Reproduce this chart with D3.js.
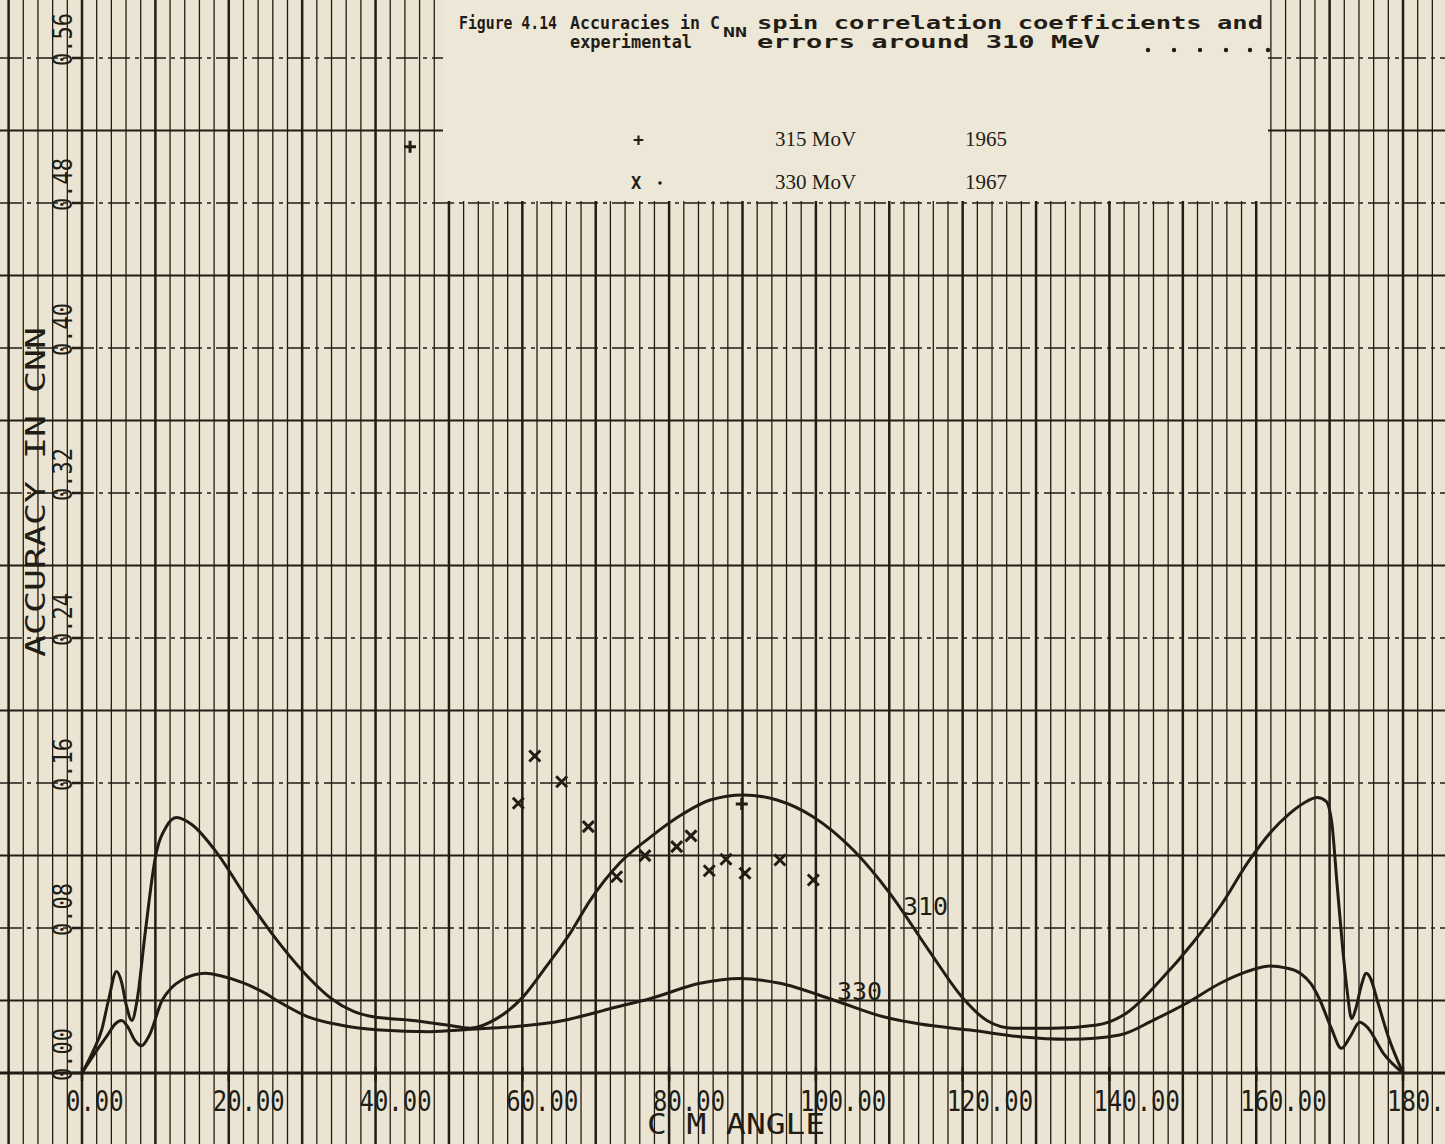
<!DOCTYPE html>
<html>
<head>
<meta charset="utf-8">
<script src="https://cdn.jsdelivr.net/npm/d3@7"></script>
<style>
  body { margin: 0; background: #ebe4d3; }
  svg { display: block; }
</style>
</head>
<body>
<div id="chart"></div>
<script>
// axis ticks
const angleTicks = [0, 20, 40, 60, 80, 100, 120, 140, 160, 180];
const accTicks = [0, 0.08, 0.16, 0.24, 0.32, 0.40, 0.48, 0.56];

// 310 MeV curve (C M angle, accuracy)
const angle310 = [0, 1.5, 2.7, 3.6, 4.7, 5.4, 6.0, 6.8, 7.5, 8.6, 10.0, 11.5, 12.9, 15, 18.1, 22.7, 27.2, 30.8, 34.0, 37, 39.7, 45.1, 49.7, 52.9, 56.5, 60.1, 63.3, 66.5, 69.2, 73.3, 77.4, 81.9, 85.6, 90.1, 94.7, 99.6, 105.1, 110.1, 115.5, 120.1, 123.3, 126.9, 132.3, 138.3, 142.3, 146.9, 151.4, 155.1, 159, 162, 164.5, 166.5, 168.3, 169.5, 170.3, 171.0, 171.8, 172.4, 173, 173.6, 174.3, 175, 175.6, 176.5, 178, 180];
const acc310 = [0, 0.012, 0.024, 0.040, 0.056, 0.050, 0.038, 0.029, 0.040, 0.077, 0.119, 0.136, 0.141, 0.137, 0.123, 0.095, 0.070, 0.053, 0.041, 0.034, 0.031, 0.029, 0.0265, 0.0247, 0.030, 0.042, 0.059, 0.077, 0.095, 0.116, 0.130, 0.143, 0.1506, 0.1534, 0.1506, 0.1414, 0.123, 0.099, 0.067, 0.041, 0.029, 0.0247, 0.0247, 0.0265, 0.033, 0.051, 0.072, 0.092, 0.117, 0.133, 0.143, 0.149, 0.152, 0.150, 0.138, 0.105, 0.068, 0.045, 0.030, 0.036, 0.048, 0.055, 0.052, 0.040, 0.020, 0];

// 330 MeV curve
const angle330 = [0, 2.2, 3.5, 4.5, 5.4, 6.3, 7.2, 8.1, 9.2, 10.9, 12.2, 13.6, 16.8, 19, 21.8, 24.5, 27.2, 30.8, 34.5, 40.6, 47.4, 52.9, 58.8, 65.6, 70.6, 72.4, 77.4, 84.2, 89.7, 95.1, 102.4, 109.2, 114.2, 121, 127.8, 134.6, 141.4, 146, 150.5, 155.1, 156.9, 159.5, 161.9, 164, 166, 167.5, 168.7, 170.2, 171.6, 172.8, 174.1, 175.2, 177.3, 180];
const acc330 = [0, 0.0136, 0.021, 0.027, 0.029, 0.025, 0.018, 0.015, 0.021, 0.040, 0.047, 0.0513, 0.055, 0.0535, 0.050, 0.045, 0.0385, 0.031, 0.027, 0.0237, 0.0228, 0.0241, 0.0255, 0.029, 0.034, 0.036, 0.041, 0.0495, 0.0522, 0.0495, 0.0403, 0.031, 0.027, 0.0237, 0.020, 0.0186, 0.021, 0.0292, 0.0385, 0.0495, 0.053, 0.057, 0.059, 0.058, 0.055, 0.049, 0.040, 0.025, 0.0136, 0.020, 0.028, 0.025, 0.011, 0];

// experimental points: x = 330 MeV 1967, + = 315 MeV 1965
const angleX = [59.45, 61.7, 65.36, 68.99, 72.85, 76.71, 81.03, 82.98, 85.47, 87.75, 90.34, 95.1, 99.65];
const accX = [0.1488, 0.1749, 0.1607, 0.1359, 0.1083, 0.1199, 0.1249, 0.1308, 0.1116, 0.1179, 0.1102, 0.1175, 0.1065];
const anglePlus = [44.7, 89.9];
const accPlus = [0.511, 0.1484];

const width = 1445, height = 1144;
const ink = "#221d14";
const paper = "#ebe4d3";

const svg = d3.select("#chart").append("svg")
  .attr("width", width)
  .attr("height", height);

svg.append("rect").attr("width", width).attr("height", height).attr("fill", paper);

const x = d3.scaleLinear().domain([0, 180]).range([82, 1403]);
const y = d3.scaleLinear().domain([0, 0.56]).range([1073, 58]);

// graph paper: verticals every 2 deg, heavy every 10
const grid = svg.append("g");
grid.selectAll("line.v")
  .data(d3.range(-10, 188, 2))
  .enter().append("line")
  .attr("x1", d => x(d)).attr("x2", d => x(d))
  .attr("y1", 0).attr("y2", height)
  .attr("stroke", ink)
  .attr("stroke-width", d => d % 10 === 0 ? 2.5 : 1.3);

// horizontals every 0.04
grid.selectAll("line.h")
  .data(d3.range(0, 15))
  .enter().append("line")
  .attr("x1", 0).attr("x2", width)
  .attr("y1", k => y(k * 0.04)).attr("y2", k => y(k * 0.04))
  .attr("stroke", ink)
  .attr("stroke-width", k => k === 0 ? 3 : (k % 2 ? 2 : 1.5))
  .attr("stroke-dasharray", k => (k === 0 || k % 2) ? null : "22,5,4,5");

// pasted caption block
svg.append("rect")
  .attr("x", 443).attr("y", 0)
  .attr("width", 1268 - 443).attr("height", 201)
  .attr("fill", "#ede7d8");

// axis ticks
svg.selectAll("line.xt")
  .data(angleTicks)
  .enter().append("line")
  .attr("x1", d => x(d)).attr("x2", d => x(d))
  .attr("y1", y(0) - 6).attr("y2", y(0) + 8)
  .attr("stroke", ink).attr("stroke-width", 2.5);

svg.selectAll("line.yt")
  .data(accTicks)
  .enter().append("line")
  .attr("x1", x(0) - 10).attr("x2", x(0))
  .attr("y1", d => y(d)).attr("y2", d => y(d))
  .attr("stroke", ink).attr("stroke-width", 2.5);

// tick labels
const plot = "'DejaVu Sans Mono', monospace";
const fmt = d3.format(".2f");
svg.selectAll("text.xl")
  .data(angleTicks)
  .enter().append("text")
  .attr("x", d => x(d) - 16)
  .attr("y", 1111)
  .attr("font-family", plot)
  .attr("font-size", 29)
  .attr("fill", ink)
  .attr("textLength", d => fmt(d).length * 14.4)
  .attr("lengthAdjust", "spacingAndGlyphs")
  .text(fmt);

svg.selectAll("text.yl")
  .data(accTicks)
  .enter().append("text")
  .attr("transform", d => `translate(72,${y(d) + 8}) rotate(-90)`)
  .attr("font-family", plot)
  .attr("font-size", 26)
  .attr("fill", ink)
  .attr("textLength", 53)
  .attr("lengthAdjust", "spacingAndGlyphs")
  .text(fmt);

// axis titles
svg.append("text")
  .attr("x", 647).attr("y", 1134)
  .attr("font-family", plot)
  .attr("font-size", 29)
  .attr("fill", ink)
  .attr("textLength", 178)
  .attr("lengthAdjust", "spacingAndGlyphs")
  .text("C M ANGLE");

svg.append("text")
  .attr("transform", "translate(45,657) rotate(-90)")
  .attr("font-family", plot)
  .attr("font-size", 27)
  .attr("fill", ink)
  .attr("textLength", 330)
  .attr("lengthAdjust", "spacingAndGlyphs")
  .text("ACCURACY IN CNN");

// curves
const line = d3.line()
  .x(d => x(d[0]))
  .y(d => y(d[1]))
  .curve(d3.curveMonotoneX);

svg.append("path")
  .attr("d", line(d3.zip(angle310, acc310)))
  .attr("fill", "none").attr("stroke", ink).attr("stroke-width", 3);

svg.append("path")
  .attr("d", line(d3.zip(angle330, acc330)))
  .attr("fill", "none").attr("stroke", ink).attr("stroke-width", 3);

svg.append("text")
  .attr("x", 903).attr("y", 915)
  .attr("font-family", plot).attr("font-size", 24).attr("fill", ink)
  .attr("textLength", 45).attr("lengthAdjust", "spacingAndGlyphs")
  .text("310");

svg.append("text")
  .attr("x", 837).attr("y", 1000)
  .attr("font-family", plot).attr("font-size", 24).attr("fill", ink)
  .attr("textLength", 45).attr("lengthAdjust", "spacingAndGlyphs")
  .text("330");

// markers
const marks = svg.append("g").attr("stroke", ink).attr("stroke-width", 3);
d3.zip(angleX, accX).forEach(([a, v]) => {
  const cx = x(a), cy = y(v), r = 5.5;
  marks.append("path").attr("d", `M${cx - r},${cy - r}L${cx + r},${cy + r}M${cx - r},${cy + r}L${cx + r},${cy - r}`);
});
d3.zip(anglePlus, accPlus).forEach(([a, v]) => {
  const cx = x(a), cy = y(v), r = 6;
  marks.append("path").attr("d", `M${cx - r},${cy}L${cx + r},${cy}M${cx},${cy - r}L${cx},${cy + r}`);
});

// caption (typed)
const typed = "'DejaVu Sans Mono', monospace";
const cap = svg.append("g").attr("fill", ink).attr("font-family", typed).attr("font-weight", "bold").attr("font-size", 18);
const capText = (tx, ty, w, s) => cap.append("text").attr("x", tx).attr("y", ty)
  .attr("textLength", w).attr("lengthAdjust", "spacingAndGlyphs").text(s);
capText(459, 29, 98, "Figure 4.14");
capText(570, 29, 150, "Accuracies in C");
cap.append("text").attr("x", 723).attr("y", 37).attr("font-size", 14).attr("textLength", 24).attr("lengthAdjust", "spacingAndGlyphs").text("NN");
capText(757, 29, 506, "spin correlation coefficients and");
capText(570, 48, 122, "experimental");
capText(757, 48, 343, "errors around 310 MeV");
cap.selectAll("circle")
  .data([1148, 1174, 1200, 1226, 1250, 1268])
  .enter().append("circle")
  .attr("cx", d => d).attr("cy", 50).attr("r", 2.2);

const legendFont = "'Liberation Serif', 'DejaVu Serif', serif";
const leg = svg.append("g").attr("fill", ink).attr("font-family", legendFont).attr("font-size", 21);
leg.append("text").attr("x", 633).attr("y", 146).attr("font-family", typed).attr("font-weight", "bold").attr("font-size", 18).text("+");
leg.append("text").attr("x", 775).attr("y", 146).text("315 MoV");
leg.append("text").attr("x", 965).attr("y", 146).text("1965");
leg.append("text").attr("x", 631).attr("y", 189).attr("font-family", typed).attr("font-weight", "bold").attr("font-size", 17).text("X");
leg.append("circle").attr("cx", 660).attr("cy", 183).attr("r", 1.8);
leg.append("text").attr("x", 775).attr("y", 189).text("330 MoV");
leg.append("text").attr("x", 965).attr("y", 189).text("1967");
</script>
</body>
</html>
